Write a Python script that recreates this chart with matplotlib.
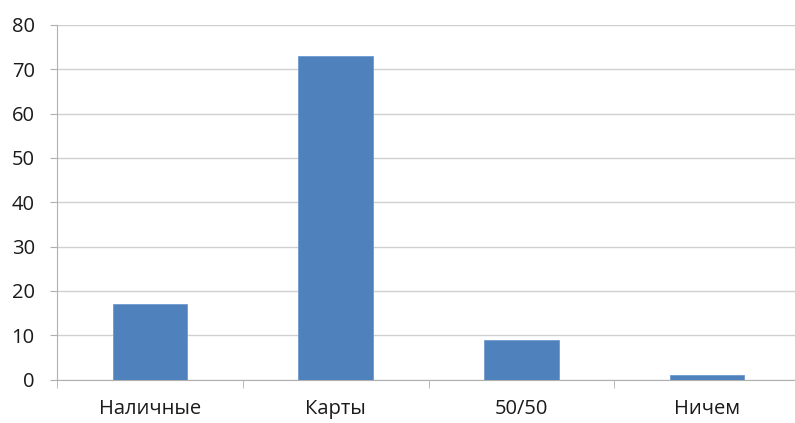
import matplotlib.pyplot as plt
import numpy as np

# payment preference survey
categories = ["Наличные", "Карты", "50/50", "Ничем"]
values = [17, 73, 9, 1]
yticks = [0, 10, 20, 30, 40, 50, 60, 70, 80]

plt.rcParams['font.family'] = ['Open Sans', 'DejaVu Sans']

W, H = 795, 423
fig = plt.figure(figsize=(W / 100, H / 100), dpi=100)
left, right, top, bottom = 57, 800, 25, 379.5
ax = fig.add_axes([left / W, 1 - bottom / H, (right - left) / W, (bottom - top) / H])

x = np.arange(len(categories))
ax.bar(x, values, width=0.4, color="#4f81bd", edgecolor="#6f9bd0", linewidth=0.6, zorder=3)

ax.set_xlim(-0.5, len(categories) - 0.5)
ax.set_ylim(0, 80)
ax.set_yticks(yticks)
ax.set_yticklabels([str(v) for v in yticks])

grid_color = "#d0d0d0"
ax.grid(axis="y", color=grid_color, linewidth=1, zorder=0)
ax.grid(axis="x", visible=False)

for s in ["top", "right"]:
    ax.spines[s].set_visible(False)
ax.spines["left"].set_color("#b0b0b0")
ax.spines["bottom"].set_color("#b0b0b0")

# category labels centred, tick marks on the category boundaries
ax.set_xticks(x)
ax.set_xticklabels(categories)
ax.set_xticks(np.arange(len(categories) + 1) - 0.5, minor=True)
ax.tick_params(axis="x", which="major", length=0, pad=14, labelsize=14.5, colors="#1a1a1a")
ax.tick_params(axis="x", which="minor", length=6, color="#b0b0b0")
ax.tick_params(axis="y", length=5, color="#b0b0b0", pad=11, labelsize=14.5, colors="#1a1a1a")

fig.savefig("out.png", dpi=100)
